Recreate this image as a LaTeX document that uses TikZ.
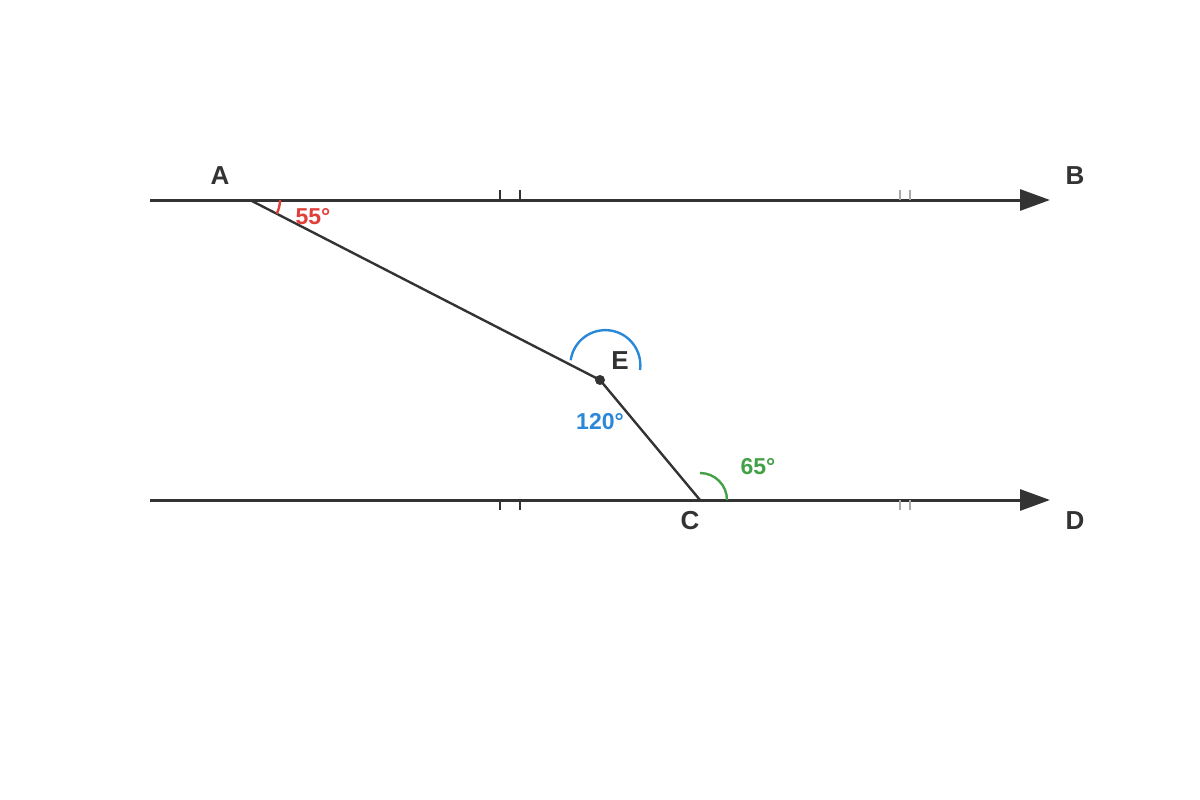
\documentclass[tikz,border=0pt]{standalone}
\usepackage{fontspec}
\setmainfont{Liberation Sans}
\usetikzlibrary{arrows.meta}
\definecolor{ink}{HTML}{333333}
\definecolor{angred}{HTML}{E0403A}
\definecolor{angblue}{HTML}{2A88D8}
\definecolor{anggreen}{HTML}{43A047}
\definecolor{tickgray}{HTML}{AAAAAA}
\tikzset{
  ray/.style={ink, line width=3pt, -{Triangle[length=30pt,width=21pt]}},
  seg/.style={ink, line width=2.4pt},
  lbl/.style={ink, font=\fontsize{26}{26}\selectfont\bfseries},
  anglbl/.style={font=\fontsize{23}{23}\selectfont\bfseries}
}
\begin{document}
\begin{tikzpicture}[x=1pt,y=-1pt]
    \useasboundingbox (0,0) rectangle (1200,800);
    \coordinate (A) at (250,200);
    \coordinate (E) at (600,380);
    \coordinate (C) at (700,500);
    \draw [ray] (150,200) -- (1050,200) coordinate (B);
    \draw [ray] (150,500) -- (1050,500) coordinate (D);
    \foreach \x in {500,520} {
        \draw [ink, line width=2pt] (\x,190) -- (\x,200);
        \draw [ink, line width=2pt] (\x,500) -- (\x,510);
    }
    \foreach \x in {900,910} {
        \draw [tickgray, line width=2pt] (\x,190) -- (\x,200);
        \draw [tickgray, line width=2pt] (\x,500) -- (\x,510);
    }
    \draw [seg] (A) -- (E) -- (C);
    \fill [ink] (E) circle (5);
        \draw [angred, line width=2.4pt] (280,200) arc[start angle=0, end angle=27, radius=30];
        \draw [angblue, line width=2.4pt] (640,370) arc[start angle=8, end angle=-172, radius=35];
        \draw [anggreen, line width=2.4pt] (727,500) arc[start angle=0, end angle=-90, radius=27];
    \node [lbl] (lA) at (220,176) {A};
    \node [lbl] (lB) at (1075,176) {B};
    \node [lbl] (lE) at (620,361) {E};
    \node [lbl] (lC) at (690,521) {C};
    \node [lbl] (lD) at (1075,521) {D};
    \node [anglbl, angred] (a55) at (313,217) {55°};
    \node [anglbl, angblue] (a120) at (600,422) {120°};
    \node [anglbl, anggreen] (a65) at (758,467) {65°};
    \end{tikzpicture}
\end{document}
